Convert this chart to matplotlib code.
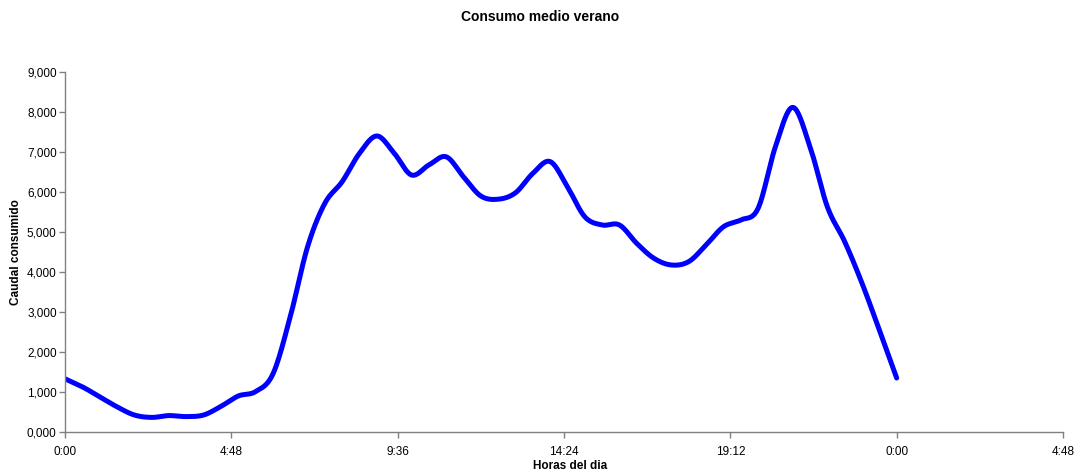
import numpy as np
import matplotlib
matplotlib.use("Agg")
import matplotlib.pyplot as plt

# Average summer consumption, sampled every half hour (hours since midnight)
hours = [0.0, 0.5, 1.0, 1.5, 2.0, 2.5, 3.0, 3.5, 4.0, 4.5, 5.0, 5.5,
         6.0, 6.5, 7.0, 7.5, 8.0, 8.5, 9.0, 9.5, 10.0, 10.5, 11.0, 11.5,
         12.0, 12.5, 13.0, 13.5, 14.0, 14.5, 15.0, 15.5, 16.0, 16.5, 17.0, 17.5,
         18.0, 18.5, 19.0, 19.5, 20.0, 20.5, 21.0, 21.5, 22.0, 22.5, 23.0, 23.5,
         24.0]
caudal = [1330, 1130, 880, 630, 425, 365, 410, 385, 425, 640, 900, 1010,
          1450, 2880, 4630, 5720, 6260, 6970, 7400, 6970, 6425, 6675, 6880, 6380,
          5900, 5820, 5980, 6465, 6760, 6130, 5380, 5175, 5175, 4715, 4340, 4175,
          4260, 4675, 5130, 5300, 5590, 7130, 8115, 7130, 5630, 4760, 3720, 2550,
          1350]

x_ticks = [0.0, 4.8, 9.6, 14.4, 19.2, 24.0, 28.8]
x_tick_labels = ["0:00", "4:48", "9:36", "14:24", "19:12", "0:00", "4:48"]
y_ticks = [0, 1000, 2000, 3000, 4000, 5000, 6000, 7000, 8000, 9000]
y_tick_labels = ["0,000", "1,000", "2,000", "3,000", "4,000",
                 "5,000", "6,000", "7,000", "8,000", "9,000"]


def catmull_rom(x, y, n=20):
    """Smooth curve through the points (uniform Catmull-Rom)."""
    x = np.asarray(x, float)
    y = np.asarray(y, float)
    px = np.concatenate([[2 * x[0] - x[1]], x, [2 * x[-1] - x[-2]]])
    py = np.concatenate([[2 * y[0] - y[1]], y, [2 * y[-1] - y[-2]]])
    xs, ys = [], []
    t = np.linspace(0, 1, n, endpoint=False)
    for i in range(1, len(px) - 2):
        p0, p1, p2, p3 = px[i - 1], px[i], px[i + 1], px[i + 2]
        q0, q1, q2, q3 = py[i - 1], py[i], py[i + 1], py[i + 2]
        for P, out in (((p0, p1, p2, p3), xs), ((q0, q1, q2, q3), ys)):
            a, b, c, d = P
            out.extend(0.5 * (2 * b + (-a + c) * t
                              + (2 * a - 5 * b + 4 * c - d) * t ** 2
                              + (-a + 3 * b - 3 * c + d) * t ** 3))
    xs.append(x[-1])
    ys.append(y[-1])
    return np.array(xs), np.array(ys)


plt.rcParams['font.family'] = ['Liberation Sans', 'DejaVu Sans']

fig = plt.figure(figsize=(10.8, 4.76), dpi=100)
ax = fig.add_axes([65 / 1080, 44 / 476, 998 / 1080, 360 / 476])

sx, sy = catmull_rom(hours, caudal)
ax.plot(sx, sy, color="#0000FF", lw=3.6, solid_capstyle="round",
        solid_joinstyle="round")

ax.set_xlim(0, 28.8)
ax.set_ylim(0, 9000)
ax.set_xticks(x_ticks)
ax.set_xticklabels(x_tick_labels)
ax.set_yticks(y_ticks)
ax.set_yticklabels(y_tick_labels)

for side in ("top", "right"):
    ax.spines[side].set_visible(False)
for side in ("left", "bottom"):
    ax.spines[side].set_color("#808080")
    ax.spines[side].set_linewidth(1.0)
ax.tick_params(axis="both", direction="out", length=4, width=1.0,
               color="#808080", labelsize=8.5, labelcolor="black")
ax.tick_params(axis="x", pad=6)
ax.tick_params(axis="y", pad=2)

fig.text(540 / 1080, 1 - 17 / 476, "Consumo medio verano", ha="center",
         va="center", fontsize=10, fontweight="bold")
fig.text(570 / 1080, 1 - 466 / 476, "Horas del dia", ha="center",
         va="center", fontsize=8.5, fontweight="bold")
fig.text(16 / 1080, 1 - 252 / 476, "Caudal consumido", ha="center",
         va="center", rotation=90, fontsize=8.5, fontweight="bold")

fig.savefig("out.png", dpi=100, facecolor="white")
